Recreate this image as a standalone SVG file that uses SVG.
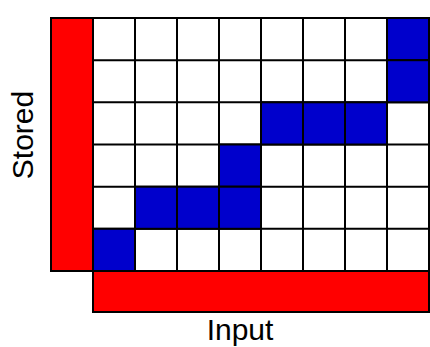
<svg xmlns="http://www.w3.org/2000/svg" width="430" height="347" viewBox="0 0 430 347">
<style>
.bar{fill:#ff0000;stroke:#000;stroke-width:2}
.cell{fill:#fff;stroke:#000;stroke-width:2}
.on{fill:#0000cc;stroke:#000;stroke-width:2}
.lbl{font-family:"Liberation Sans",Arial,sans-serif;font-size:30px;fill:#000}
</style>
<rect width="430" height="347" fill="#fff"/>
<g id="stored-bar"><rect class="bar" x="51" y="18" width="42" height="253"/></g>
<g id="input-bar"><rect class="bar" x="93" y="271" width="336" height="41"/></g>
<g id="grid">
<rect class="cell" x="93" y="18" width="336" height="253"/>
<path d="M135 18V271M177 18V271M219 18V271M261 18V271M303 18V271M345 18V271M387 18V271M93 60.2H429M93 102.3H429M93 144.5H429M93 186.7H429M93 228.8H429" stroke="#000" stroke-width="2" fill="none"/>
<rect class="on" x="387" y="18" width="42" height="42.2"/>
<rect class="on" x="387" y="60.2" width="42" height="42.1"/>
<rect class="on" x="261" y="102.3" width="42" height="42.2"/>
<rect class="on" x="303" y="102.3" width="42" height="42.2"/>
<rect class="on" x="345" y="102.3" width="42" height="42.2"/>
<rect class="on" x="219" y="144.5" width="42" height="42.2"/>
<rect class="on" x="135" y="186.7" width="42" height="42.1"/>
<rect class="on" x="177" y="186.7" width="42" height="42.1"/>
<rect class="on" x="219" y="186.7" width="42" height="42.1"/>
<rect class="on" x="93" y="228.8" width="42" height="42.2"/>
</g>
<g id="labels">
<text class="lbl" x="0" y="0" text-anchor="middle" transform="translate(33 135) rotate(-90)">Stored</text>
<text class="lbl" x="240" y="340" text-anchor="middle">Input</text>
</g>
</svg>
